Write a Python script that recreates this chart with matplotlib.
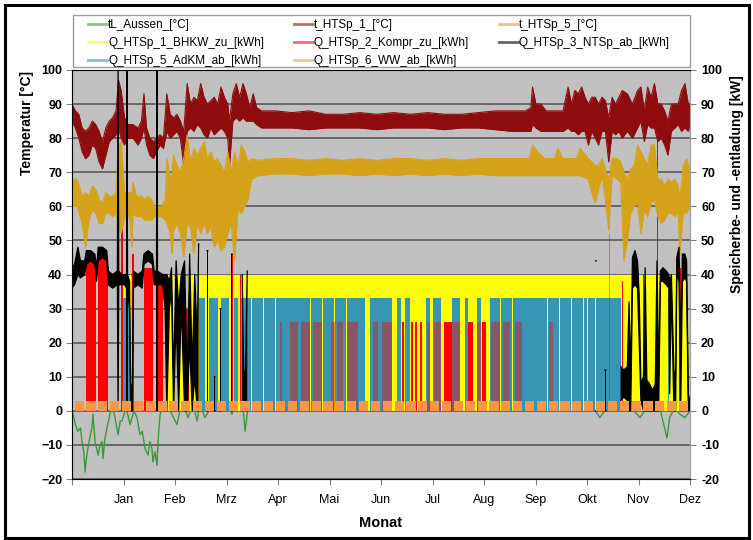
import numpy as np
import matplotlib
matplotlib.use("Agg")
import matplotlib.pyplot as plt
from matplotlib.lines import Line2D
from matplotlib.patches import Rectangle

plt.rcParams['font.family'] = ['Liberation Sans Narrow', 'Liberation Sans', 'DejaVu Sans']

# ---------------- data (x in days of the year) ----------------
month_labels = ['', 'Jan', 'Feb', 'Mrz', 'Apr', 'Mai', 'Jun', 'Jul', 'Aug', 'Sep', 'Okt', 'Nov', 'Dez']
series_names = ['tL_Aussen_[°C]', 't_HTSp_1_[°C]', 't_HTSp_5_[°C]',
                'Q_HTSp_1_BHKW_zu_[kWh]', 'Q_HTSp_2_Kompr_zu_[kWh]', 'Q_HTSp_3_NTSp_ab_[kWh]',
                'Q_HTSp_5_AdKM_ab_[kWh]', 'Q_HTSp_6_WW_ab_[kWh]']

# outside temperature
tl_day = [0, 0.6, 2, 3.5, 5, 5.9, 7, 7.7, 8.5, 9.4, 10.5, 11.8, 12.4, 13.6, 15.4, 16.5, 17.7,
          18.3, 19.5, 20.7, 22.4, 23.6, 25.4, 27.2, 28.5, 29.5, 31.9, 34.3, 36.6, 38.4, 40.2,
          41.5, 43.1, 44.9, 46, 47.2, 47.8, 49, 50.2, 50.8, 52, 55, 58, 62, 65, 68.5, 71.5,
          73.8, 75.6, 78.5, 84.5, 90, 94.5, 98, 101, 102.2, 104, 110, 120, 130, 140, 150,
          160, 170, 180, 190, 200, 210, 220, 230, 240, 250, 260, 270, 280, 290, 300, 305,
          311.8, 317, 323.6, 330, 335.5, 341, 347, 350, 351.4, 353, 356, 359, 362, 365]
tl_val = [1, -1, -4, -6, -5, -9, -12, -18, -14, -11, -8, -5, -1, -9, -13, -10, -9,
          -14, -8, -5, -1, 2, -2, -7, -3, -3, 1, -4, 0, -2, -7,
          -6, -11, -13, -9, -11, -15, -12, -16, -9, -1, 2, 0, -4, 3, -2, 2,
          -3, 2, -2, 3, 5, -1, 4, 1, -6, 1, 6, 9, 12, 14, 16,
          18, 20, 19, 22, 21, 20, 19, 18, 15, 14, 12, 10, 9, 8, 5, 3,
          -2, 2, 3, 1, -2, 2, 1, -5, -8, -2, 1, -1, -2, 0]

# storage temperature t_HTSp_1 (lower / upper envelope)
t1_day = [0, 2, 4, 6, 8, 10, 12, 14, 16, 18, 20, 22, 24, 26, 27.5, 29, 31, 33, 36, 39, 41,
          42.5, 44, 46, 48, 50, 52, 54, 56, 58, 60, 62, 64, 66, 68, 70, 72, 74, 76, 78, 80,
          82, 84, 86, 88, 90, 92, 93, 95, 97, 99, 101, 103, 105, 107, 109, 112, 120, 130,
          140, 150, 160, 170, 180, 190, 200, 210, 220, 230, 240, 250, 260, 268, 271, 272,
          274, 277, 280, 285, 290, 293, 295, 297, 299, 301, 303, 305, 307, 309, 311, 313,
          315, 317, 319, 321, 323, 325, 328, 331, 334, 336, 338, 340, 342, 344, 346, 348,
          350, 352, 354, 356, 358, 360, 362, 364, 365]
t1_lo = [85, 83, 80, 76, 74, 75, 78, 77, 73, 71, 75, 79, 80, 81, 83, 80, 78, 80, 80, 78, 80,
         83, 78, 75, 74, 76, 78, 77, 82, 80, 81, 82, 80, 72, 82, 83, 82, 84, 83, 81, 80,
         83, 81, 82, 83, 82, 80, 72, 85, 86, 85, 86, 85, 85, 85, 84, 83, 83, 83,
         82.5, 83, 83, 83, 82.5, 83, 83, 83, 82.5, 83, 83, 82.5, 82, 82, 82, 84,
         83, 82, 82, 82, 82, 83, 82, 82, 81, 82, 82, 78, 82, 80, 78, 82,
         82, 73, 82, 81, 82, 80, 82, 80, 83, 85, 79, 84, 83, 83, 79, 80,
         78, 75, 82, 83, 84, 82, 83, 82, 84]
t1_hi = [90, 88, 87, 83, 82, 83, 85, 84, 82, 79, 83, 85, 86, 88, 97, 94, 86, 84, 84, 83, 85,
         93, 83, 80, 79, 80, 81, 80, 93, 87, 86, 87, 85, 82, 96, 90, 92, 91, 96, 92, 90,
         91, 92, 90, 95, 92, 90, 85, 93, 96, 92, 96, 93, 89, 93, 89, 88, 88, 87.5,
         88, 87, 87, 87.5, 87, 87.5, 87, 87.5, 87, 87, 87.5, 88, 88, 88, 89, 95,
         90, 90, 88, 88, 88, 95, 90, 94, 93, 95, 92, 90, 92, 92, 90, 92,
         91, 86, 92, 90, 92, 94, 93, 90, 94, 95, 88, 95, 92, 96, 90, 90,
         88, 85, 90, 90, 90, 94, 96, 90, 90]

# storage temperature t_HTSp_5 (lower / upper envelope)
t5_day = [0, 3, 6, 8, 10, 12, 14, 16, 18, 20, 22, 24, 26, 27.5, 29, 31, 34, 35.4, 36, 38, 41,
          43, 45, 47, 49, 51, 53, 55, 56, 58, 59, 60, 62, 64, 66, 68, 70, 72, 74, 76, 78,
          80, 82, 84, 86, 88, 90, 92, 94, 96, 98, 100, 102, 104, 106, 110, 120, 130, 140,
          150, 160, 170, 180, 190, 200, 210, 220, 230, 240, 250, 260, 270, 272, 275, 279,
          285, 287, 290, 298, 300, 305, 307, 309, 311, 313, 315, 317, 319, 322, 324, 326,
          328, 330, 332, 334, 336, 338, 340, 342, 344, 346, 348, 350, 352, 354, 356, 358,
          359, 361, 363, 365]
t5_lo = [60, 60, 55, 48, 56, 59, 58, 55, 55, 58, 58, 57, 58, 55, 52, 57, 57, 48, 58, 57, 57,
         56, 56, 56, 57, 57, 57, 56, 55, 52, 46, 53, 55, 52, 45, 55, 54, 46, 55, 52, 55,
         52, 54, 48, 50, 47, 48, 52, 55, 44, 59, 58, 60, 62, 68, 69, 69.5, 69.5, 69,
         69.5, 69.5, 69, 69.5, 69, 69.5, 69, 69.5, 69, 69.5, 69, 69, 69, 69, 69, 69,
         69, 69, 69, 69, 69, 68, 64, 61, 65, 69, 62, 53, 69, 68, 67, 44,
         50, 58, 60, 61, 52, 59, 57, 61, 62, 57, 55, 56, 58, 58, 57, 58,
         46, 58, 58, 60]
t5_hi = [68, 68, 63, 64, 63, 66, 65, 62, 61, 64, 63, 63, 64, 78, 79, 64, 64, 64, 67, 63, 63,
         62, 63, 62, 60, 60, 60, 62, 74, 68, 70, 75, 72, 70, 74, 81, 73, 77, 75, 77, 79,
         74, 76, 73, 74, 72, 70, 76, 70, 76, 72, 78, 76, 73, 74, 73.5, 74, 74, 73.5,
         74, 73.5, 74, 73.5, 74, 74, 73.5, 74, 73.5, 74, 74, 74, 74, 78, 76, 74,
         74, 77, 74, 74, 77, 74, 73, 72, 72, 74, 71, 68, 74, 74, 73, 70,
         68, 71, 72, 78, 76, 74, 72, 78, 78, 68, 68, 66, 68, 67, 68, 66,
         62, 72, 74, 70]

# Q_HTSp_1_BHKW_zu (yellow) : on-intervals [day] and value
bhkw_start = [29.5, 56, 62, 68.5, 74.5]
bhkw_end = [35, 60, 66, 73, 363]
bhkw_val = [40, 40, 40, 40, 40]

# Q_HTSp_2_Kompr_zu (red)
kompr_start = [8.2, 15.3, 29.2, 35.7, 42.5, 50.5, 67.0, 79.7, 94.2, 99.4,
               122.9, 128.8, 135.3, 142.6, 153.0, 156.3, 162.3, 178.0, 183.0, 194.7,
               200.0, 202.6, 205.5, 209.4, 213.8, 219.7, 224.2, 234.0, 239.4, 241.9,
               247.2, 254.7, 261.6, 282.0, 316.9, 324.9, 337.4, 345.6, 358.5]
kompr_end = [14.0, 21.0, 29.9, 36.4, 48.0, 54.0, 69.0, 80.4, 94.9, 100.1,
             124.3, 133.7, 140.6, 147.9, 155.4, 160.3, 169.1, 181.0, 188.8, 196.3,
             201.2, 203.8, 207.0, 211.4, 217.7, 224.2, 229.1, 236.6, 241.5, 244.5,
             252.8, 258.7, 265.6, 284.3, 317.6, 325.6, 338.1, 346.3, 359.5]
kompr_val = [44, 45, 54, 46, 42, 38, 30, 47, 46, 40,
             26, 26, 26, 26, 26, 26, 26, 26, 26, 26,
             26, 26, 26, 26, 26, 26, 26, 26, 26, 26,
             26, 26, 26, 26, 52, 38, 40, 80, 42]

# Q_HTSp_3_NTSp_ab (black) : lower / upper envelope, nan = no discharge
bk_day = [0, 1.5, 3.5, 5, 7.5, 8.5, 11, 13.5, 14.5, 15.5, 18, 20.5, 21.5, 24, 26.8, 27.2, 27.6,
          29.5, 31, 32.2, 32.5, 32.8, 34, 34.6, 35.6, 36.3, 39, 41.5, 42.5, 45, 47.5, 48.5,
          49.9, 50.2, 50.5, 53.5, 55, 56, 57.5, 58.8, 60, 61.5, 63, 64.5, 66.5, 68, 69.5, 71,
          72.5, 74, 74.8, 75.3, 79.7, 80.2, 80.5, 84, 84.5, 84.8, 87.4, 87.8, 88.1, 94.2, 94.6,
          94.9, 100.5, 101.5, 102.5, 103.5, 104, 309.2, 309.6, 310, 314.8, 315.4, 315.8,
          324, 326, 328, 329, 330, 331, 332.5, 334, 335, 336, 337.5, 338.5, 339.5, 341, 343,
          344.5, 345.5, 346.5, 347.5, 349, 351, 352.5, 353, 354, 355.5, 356.5, 357.2, 358.5,
          359.5, 360.5, 362, 363, 364, 365]
bk_lo = [36, 37, 40, 39, 40, 43, 44, 43, 38, 44, 45, 44, 37, 36, 37, 0, 37,
         37, 37, 36, 0, 36, 30, 0, 0, 36, 37, 36, 43, 44, 43, 37,
         37, 0, 37, 37, 30, 0, 30, 35, 0, 28, 0, 32, 0, 0, 20, 0,
         10, 0, 0, np.nan, 0, 0, np.nan, 0, 0, np.nan, 0, 0, np.nan, 0, 0,
         np.nan, 0, 3, 3, 0, np.nan, 0, 0, np.nan, 0, 0, np.nan,
         3, 4, 3, 0, 0, 36, 37, 36, 20, 3, 0, 0, 0, 0, 0,
         0, 0, 0, 38, 38, 37, 36, 5, 36, 0, 0, 40, 38,
         0, 38, 39, 38, 0, 0]
bk_hi = [42, 43, 48, 44, 44, 47, 47, 46, 42, 48, 48, 47, 41, 40, 41, 100, 41,
         40, 40, 40, 100, 40, 38, 8, 6, 41, 40, 41, 46, 47, 46, 41,
         41, 100, 41, 40, 40, 40, 38, 42, 10, 44, 30, 40, 44, 8, 46, 12,
         40, 20, 49, np.nan, 47, 47, np.nan, 10, 10, np.nan, 30, 30, np.nan, 46, 46,
         np.nan, 40, 10, 12, 41, np.nan, 44, 44, np.nan, 12, 12, np.nan,
         13, 12, 13, 32, 10, 45, 47, 44, 34, 8, 10, 42, 9, 8, 6,
         8, 44, 10, 41, 42, 41, 40, 38, 40, 12, 10, 45, 48,
         20, 46, 46, 44, 5, 3]

# Q_HTSp_5_AdKM_ab (teal) : on-intervals with short weekend breaks
adkm_start = [30, 75, 81, 88, 95.5, 100, 106.2, 113.2, 120.2, 127.2, 134.2, 141.2, 148.2,
              155.2, 162.2, 169.2, 176, 183.2, 191.8, 196.5, 209, 213.5, 224.2, 232, 239.2,
              247, 253.2, 260.2, 267.2, 274.2, 281.2, 288.2, 295.2, 302.2, 305, 309.2,
              316.2, 323.2, 352]
adkm_end = [34, 78.5, 86, 93, 98, 105.8, 112.8, 119.8, 126.8, 133.8, 140.8, 147.8, 154.8,
            161.8, 168.8, 173, 182.8, 188.8, 194.5, 199.8, 211.5, 217.7, 229.1, 234, 241.7,
            252.8, 259.8, 266.8, 273.8, 280.8, 287.8, 294.8, 301.8, 304, 308.8, 315.8,
            322.8, 324.5, 352.8]
adkm_val = [33] * len(adkm_start)

# Q_HTSp_6_WW_ab (orange) : weekly hot-water blocks
ww_start = [1.5, 8.5, 15.5, 22.5, 29.5, 36.5, 43.5, 50.5, 57.5, 64.5, 71.5, 78.5, 85.5,
            92.5, 99.5, 106.5, 113.5, 120.5, 127.5, 134.5, 141.5, 148.5, 155.5, 162.5,
            169.5, 176.5, 183.5, 190.5, 197.5, 204.5, 211.5, 218.5, 225.5, 232.5, 239.5,
            246.5, 253.5, 260.5, 267.5, 274.5, 281.5, 288.5, 295.5, 302.5, 309.5, 316.5,
            323.5, 330.5, 337.5, 344.5, 351.5, 358.5]
ww_days = 5.4
ww_val = 3

# ---------------- colours ----------------
c_tl = '#3C9A3C'
c_t1 = '#8E0C0C'
c_t5 = '#D6A21A'
c_bhkw = '#FFFF00'
c_kompr = '#FF0000'
c_ntsp = '#000000'
c_adkm = '#3796B4'
c_ww = '#F79646'

W, H = 753, 540
fig = plt.figure(figsize=(W / 100, H / 100), dpi=100)
fig.patch.set_facecolor('white')
ax = fig.add_axes([72 / W, 61 / H, 618 / W, 409 / H])
ax.set_facecolor('#C0C0C0')


def interval_bars(starts, ends, vals, color, z, alpha=None):
    s = np.asarray(starts, float)
    e = np.asarray(ends, float)
    cols = [matplotlib.colors.to_rgba(color, 1.0 if alpha is None else a)
            for a in (alpha if alpha is not None else [None] * len(s))]
    ax.bar(s, vals, width=e - s, align='edge', color=cols, linewidth=0, zorder=z)


# outside temperature (lowest layer)
ax.plot(tl_day, tl_val, color=c_tl, lw=1.0, zorder=1.5)

# storage charge / discharge bars
interval_bars(bhkw_start, bhkw_end, bhkw_val, c_bhkw, 2)
interval_bars(adkm_start, adkm_end, adkm_val, c_adkm, 3)
# compressor bars blended where they coincide with AdKM discharge
k_alpha = []
for s, e in zip(kompr_start, kompr_end):
    ov = sum(max(0, min(e, te) - max(s, ts)) for ts, te in zip(adkm_start, adkm_end))
    k_alpha.append(0.42 if ov > 0.5 * (e - s) else 1.0)
interval_bars(kompr_start, kompr_end, kompr_val, c_kompr, 4, alpha=k_alpha)

# temperature bands
ax.fill_between(t1_day, t1_lo, t1_hi, color=c_t1, lw=0, zorder=5)
ax.plot(t1_day, t1_lo, color=c_t1, lw=0.8, zorder=5)
ax.plot(t1_day, t1_hi, color=c_t1, lw=0.8, zorder=5)
ax.fill_between(t5_day, t5_lo, t5_hi, color=c_t5, lw=0, zorder=5)
ax.plot(t5_day, t5_lo, color=c_t5, lw=0.8, zorder=5)
ax.plot(t5_day, t5_hi, color=c_t5, lw=0.8, zorder=5)

# NTSp discharge (black)
bd = np.asarray(bk_day, float)
blo = np.ma.masked_invalid(np.asarray(bk_lo, float))
bhi = np.ma.masked_invalid(np.asarray(bk_hi, float))
ax.fill_between(bd, blo, bhi, color=c_ntsp, lw=0, zorder=6)
ax.plot(bd, blo, color=c_ntsp, lw=0.9, zorder=6)
ax.plot(bd, bhi, color=c_ntsp, lw=0.9, zorder=6)

# hot water blocks
ax.bar(ww_start, [ww_val] * len(ww_start), width=ww_days, align='edge', color=c_ww,
       linewidth=0, zorder=7)

# ---------------- axes ----------------
ax.set_xlim(0, 365)
ax.set_ylim(-20, 100)
ax.set_yticks(np.arange(-20, 101, 10))
ax.set_xticks(np.linspace(0, 365, 13))
ax.set_xticklabels(month_labels, fontsize=9)
ax.yaxis.grid(True, color='#505050', lw=1.1, zorder=0.5)
ax.set_axisbelow(True)
for lab in ax.get_yticklabels():
    lab.set_fontweight('bold')
    lab.set_fontsize(9)
ax.tick_params(axis='both', direction='out', length=4, color='#808080', pad=3)
ax.tick_params(axis='x', pad=7)
for sp in ['top', 'right']:
    ax.spines[sp].set_color('#A0A0A0')
for sp in ['left', 'bottom']:
    ax.spines[sp].set_color('#808080')
ax.set_ylabel('Temperatur [°C]', fontsize=10, fontweight='bold')
ax.yaxis.set_label_coords(-0.061, 0.87)
ax.set_xlabel('Monat', fontsize=10.5, fontweight='bold', labelpad=7)

ax2 = ax.twinx()
ax2.set_ylim(-20, 100)
ax2.set_yticks(np.arange(-20, 101, 10))
ax2.set_yticklabels([str(v) for v in range(-20, 101, 10)], fontsize=9, fontweight='bold')
ax2.tick_params(axis='y', direction='out', length=4, color='#808080', pad=4)
ax2.spines['right'].set_color('#A0A0A0')
ax2.set_ylabel('Speicherbe- und -entladung [kW]', fontsize=10, fontweight='bold')
ax2.yaxis.set_label_coords(1.064, 0.72)

# ---------------- legend ----------------
cols = [c_tl, c_t1, c_t5, c_bhkw, c_kompr, c_ntsp, c_adkm, c_ww]
handles = [Line2D([0], [0], color=c, lw=2, alpha=0.6) for c in cols]
order = [0, 3, 6, 1, 4, 7, 2, 5]
leg = fig.legend([handles[i] for i in order], [series_names[i] for i in order], ncol=3,
                 loc='lower left', bbox_to_anchor=(84 / W, 1 - 71 / H, 590 / W, 52 / H),
                 mode='expand', fontsize=8.5, frameon=False,
                 borderaxespad=0, handlelength=1.6, handletextpad=0.1, labelspacing=0.5,
                 borderpad=0.35)
fig.add_artist(Rectangle((73 / W, 1 - 67 / H), 617 / W, 52 / H, transform=fig.transFigure,
                         fill=True, facecolor='white', lw=1.0, edgecolor='#A0A0A0', zorder=-1))

# outer frame
fig.add_artist(Rectangle((5 / W, 2 / H), 744 / W, 533 / H, transform=fig.transFigure,
                         fill=False, lw=2.2, edgecolor='black'))

fig.savefig('out.png', dpi=100)
